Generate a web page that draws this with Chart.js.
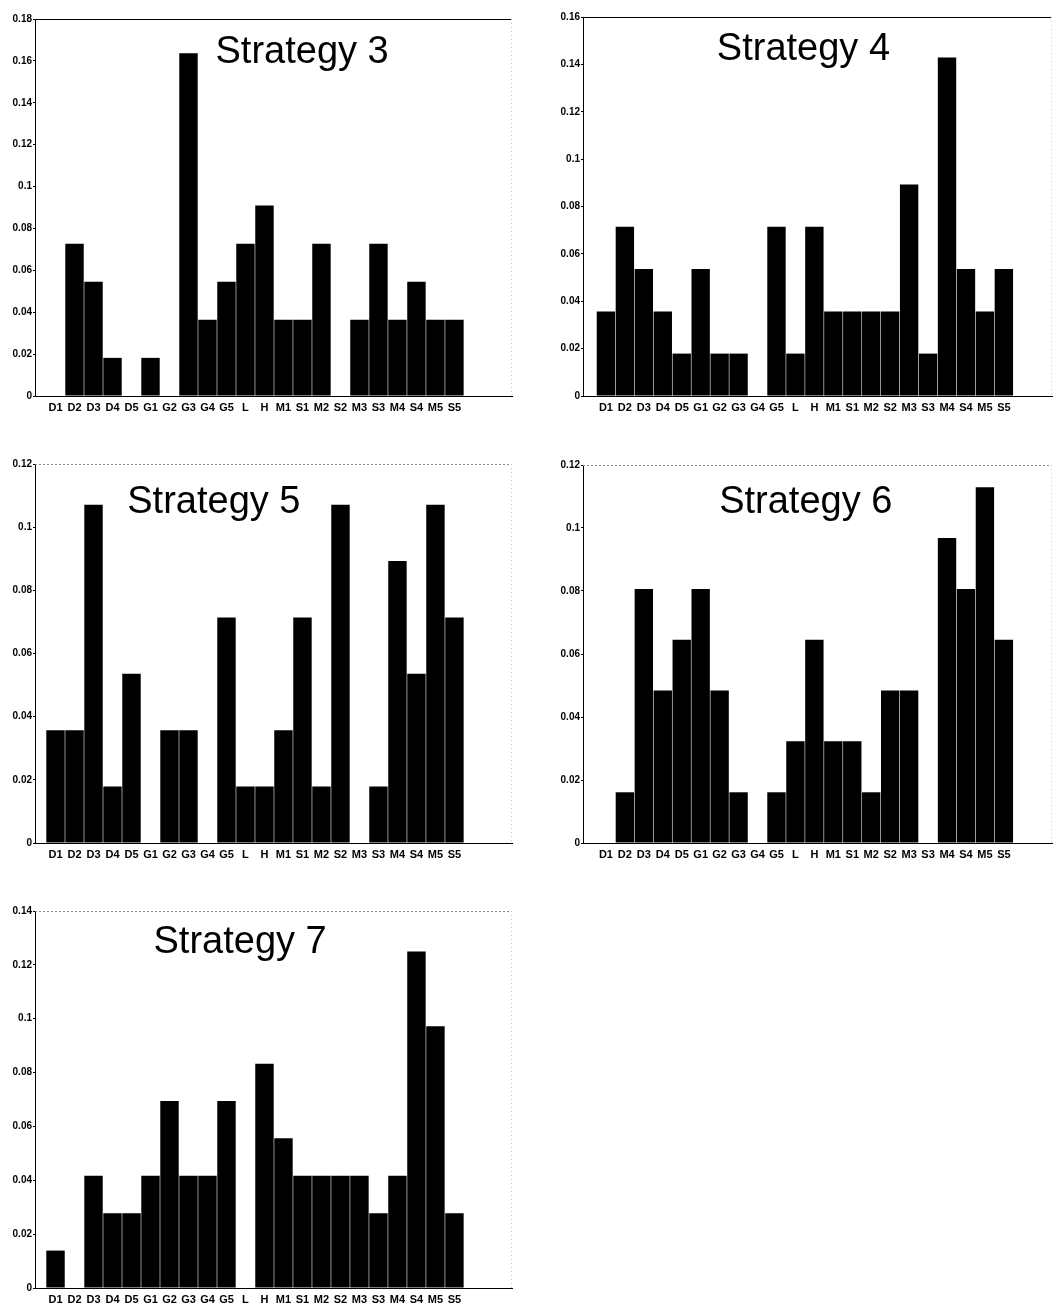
<!DOCTYPE html>
<html lang="en">
<head>
    <meta charset="UTF-8">
    <title>Strategy 3-7</title>
    <script src="https://cdn.jsdelivr.net/npm/chart.js"></script>
    <style>
        body {
            margin: 0;
            background: #ffffff;
            width: 1062px;
            height: 1309px;
            position: relative;
            overflow: hidden;
        }
        canvas {
            position: absolute;
        }
    </style>
</head>
<body>
    <canvas id="s3"></canvas>
    <canvas id="s4"></canvas>
    <canvas id="s5"></canvas>
    <canvas id="s6"></canvas>
    <canvas id="s7"></canvas>

    <script>
        const categories = ['D1', 'D2', 'D3', 'D4', 'D5', 'G1', 'G2', 'G3', 'G4', 'G5', 'L', 'H',
                            'M1', 'S1', 'M2', 'S2', 'M3', 'S3', 'M4', 'S4', 'M5', 'S5'];

        const strategy3 = [0, 0.0727, 0.0545, 0.0182, 0, 0.0182, 0, 0.1636, 0.0364, 0.0545, 0.0727,
                           0.0909, 0.0364, 0.0364, 0.0727, 0, 0.0364, 0.0727, 0.0364, 0.0545, 0.0364, 0.0364];
        const strategy4 = [0.0357, 0.0714, 0.0536, 0.0357, 0.0179, 0.0536, 0.0179, 0.0179, 0, 0.0714, 0.0179,
                           0.0714, 0.0357, 0.0357, 0.0357, 0.0357, 0.0893, 0.0179, 0.1429, 0.0536, 0.0357, 0.0536];
        const strategy5 = [0.0357, 0.0357, 0.1071, 0.0179, 0.0536, 0, 0.0357, 0.0357, 0, 0.0714, 0.0179,
                           0.0179, 0.0357, 0.0714, 0.0179, 0.1071, 0, 0.0179, 0.0893, 0.0536, 0.1071, 0.0714];
        const strategy6 = [0, 0.0161, 0.0806, 0.0484, 0.0645, 0.0806, 0.0484, 0.0161, 0, 0.0161, 0.0323,
                           0.0645, 0.0323, 0.0323, 0.0161, 0.0484, 0.0484, 0, 0.0968, 0.0806, 0.1129, 0.0645];
        const strategy7 = [0.0139, 0, 0.0417, 0.0278, 0.0278, 0.0417, 0.0694, 0.0417, 0.0417, 0.0694, 0,
                           0.0833, 0.0556, 0.0417, 0.0417, 0.0417, 0.0417, 0.0278, 0.0417, 0.125, 0.0972, 0.0278];

        const titles = ['Strategy 3', 'Strategy 4', 'Strategy 5', 'Strategy 6', 'Strategy 7'];
        const yMax = [0.18, 0.16, 0.12, 0.12, 0.14];
        const yStep = 0.02;

        // layout of each panel: plot area edges on the page, x range, title spot
        const panels = [
            { id: 's3', values: strategy3, L: 35,  T: 19,  R: 512,  B: 396,  xh: 22, xmin: -1.08, xmax: 24.03, tx: 0.56,  ty: 34, topSolid: true },
            { id: 's4', values: strategy4, L: 583, T: 17,  R: 1052, B: 396,  xh: 22, xmin: -1.21, xmax: 23.54, tx: 0.47,  ty: 33, topSolid: true },
            { id: 's5', values: strategy5, L: 35,  T: 464, R: 512,  B: 843,  xh: 22, xmin: -1.08, xmax: 24.03, tx: 0.375, ty: 39, topSolid: false },
            { id: 's6', values: strategy6, L: 583, T: 465, R: 1052, B: 843,  xh: 22, xmin: -1.21, xmax: 23.54, tx: 0.475, ty: 38, topSolid: false },
            { id: 's7', values: strategy7, L: 35,  T: 911, R: 512,  B: 1288, xh: 20, xmin: -1.08, xmax: 24.03, tx: 0.43,  ty: 32, topSolid: false }
        ];

        const panelDecor = {
            id: 'panelDecor',
            afterDraw(chart, args, opts) {
                const a = chart.chartArea;
                const ctx = chart.ctx;
                ctx.save();
                // top frame line
                ctx.lineWidth = 1;
                if (opts.topSolid) {
                    ctx.strokeStyle = '#000';
                    ctx.setLineDash([]);
                } else {
                    ctx.strokeStyle = '#888';
                    ctx.setLineDash([2, 2]);
                }
                ctx.beginPath();
                ctx.moveTo(a.left, a.top + 0.5);
                ctx.lineTo(a.right, a.top + 0.5);
                ctx.stroke();
                // faint right edge
                ctx.strokeStyle = '#c8c8c8';
                ctx.setLineDash([1, 3]);
                ctx.beginPath();
                ctx.moveTo(a.right - 0.5, a.top);
                ctx.lineTo(a.right - 0.5, a.bottom);
                ctx.stroke();
                // title inside the plot
                ctx.setLineDash([]);
                ctx.fillStyle = '#000';
                ctx.font = '38px "Liberation Sans", Arial, sans-serif';
                ctx.textAlign = 'center';
                ctx.textBaseline = 'middle';
                ctx.fillText(opts.text, a.left + (a.right - a.left) * opts.tx, a.top + opts.ty);
                ctx.restore();
            }
        };
        Chart.register(panelDecor);

        panels.forEach((p, k) => {
            const canvas = document.getElementById(p.id);
            const w = p.R - p.L + 41;
            const h = p.B - p.T + 10 + p.xh;
            canvas.width = w;
            canvas.height = h;
            canvas.style.left = (p.L - 35) + 'px';
            canvas.style.top = (p.T - 10) + 'px';
            canvas.style.width = w + 'px';
            canvas.style.height = h + 'px';

            new Chart(canvas.getContext('2d'), {
                type: 'bar',
                data: {
                    datasets: [{
                        label: titles[k],
                        data: p.values.map((v, i) => ({ x: i, y: v })),
                        backgroundColor: '#000',
                        borderWidth: 0,
                        barPercentage: 0.97,
                        categoryPercentage: 1
                    }]
                },
                options: {
                    responsive: false,
                    animation: false,
                    devicePixelRatio: 1,
                    layout: { padding: { top: 10, right: 6, left: 0, bottom: 0 } },
                    plugins: {
                        legend: { display: false },
                        tooltip: { enabled: false },
                        panelDecor: { text: titles[k], tx: p.tx, ty: p.ty, topSolid: p.topSolid }
                    },
                    scales: {
                        x: {
                            type: 'linear',
                            min: p.xmin,
                            max: p.xmax,
                            offset: false,
                            afterFit(scale) { scale.height = p.xh; },
                            grid: { display: false, drawTicks: false, offset: false },
                            border: { display: true, color: '#000', width: 1 },
                            ticks: {
                                stepSize: 1,
                                autoSkip: false,
                                includeBounds: false,
                                maxRotation: 0,
                                minRotation: 0,
                                padding: 5,
                                color: '#000',
                                font: { family: '"Liberation Sans", Arial, sans-serif', size: 11, weight: 'bold' },
                                callback: (v) => Number.isInteger(v) && categories[v] ? categories[v] : ''
                            }
                        },
                        y: {
                            min: 0,
                            max: yMax[k],
                            afterFit(scale) { scale.width = 35; },
                            grid: { display: true, drawOnChartArea: false, drawTicks: true, tickLength: 2, color: '#000' },
                            border: { display: true, color: '#000', width: 1 },
                            ticks: {
                                stepSize: yStep,
                                padding: 1,
                                color: '#000',
                                font: { family: '"Liberation Sans", Arial, sans-serif', size: 10, weight: 'bold' },
                                callback: (v) => String(+v.toFixed(2))
                            }
                        }
                    }
                }
            });
        });
    </script>
</body>
</html>
